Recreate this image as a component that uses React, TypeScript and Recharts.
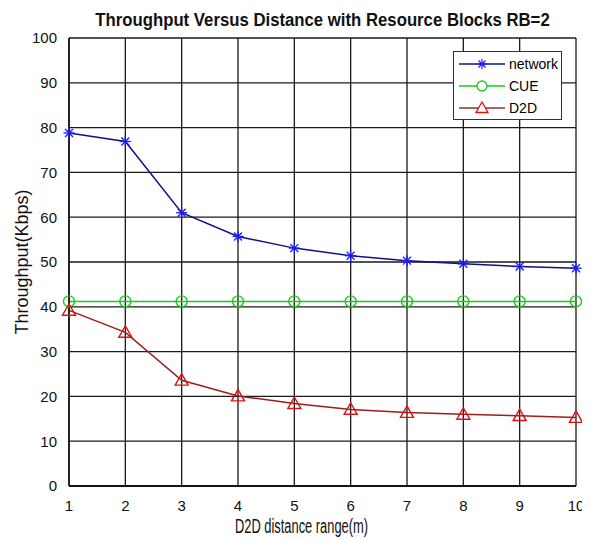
import React from "react";
import { LineChart, Line, XAxis, YAxis, CartesianGrid, Label } from "recharts";

const distances = [1, 2, 3, 4, 5, 6, 7, 8, 9, 10];
const networkValues = [78.8, 76.9, 61.0, 55.7, 53.1, 51.4, 50.3, 49.6, 49.0, 48.6];
const cueValues = [41.2, 41.2, 41.2, 41.2, 41.2, 41.2, 41.2, 41.2, 41.2, 41.2];
const d2dValues = [39.2, 34.3, 23.6, 20.1, 18.4, 17.1, 16.4, 16.0, 15.7, 15.3];
const xTicks = [1, 2, 3, 4, 5, 6, 7, 8, 9, 10];
const yTicks = [0, 10, 20, 30, 40, 50, 60, 70, 80, 90, 100];

const data = distances.map((d, i) => ({
  d,
  network: networkValues[i],
  cue: cueValues[i],
  d2d: d2dValues[i],
}));

const FONT = "'Liberation Sans', Arial, sans-serif";

const NAVY = "#10108a";
const BLUE = "#1a1aff";
const GREEN = "#1ec81e";
const MAROON = "#a01c1c";
const RED = "#dd1111";

const Star = (props: any) => {
  const { cx, cy, index } = props;
  if (cx == null || cy == null) return <g key={`s${index}`} />;
  const r = 5.5;
  const d = r * 0.72;
  return (
    <g key={`s${index}`} stroke={BLUE} strokeWidth={1.3}>
      <line x1={cx - r} y1={cy} x2={cx + r} y2={cy} />
      <line x1={cx} y1={cy - r} x2={cx} y2={cy + r} />
      <line x1={cx - d} y1={cy - d} x2={cx + d} y2={cy + d} />
      <line x1={cx - d} y1={cy + d} x2={cx + d} y2={cy - d} />
    </g>
  );
};

const Circ = (props: any) => {
  const { cx, cy, index } = props;
  if (cx == null || cy == null) return <g key={`c${index}`} />;
  return <circle key={`c${index}`} cx={cx} cy={cy} r={5.5} fill="none" stroke={GREEN} strokeWidth={1.4} />;
};

const Tri = (props: any) => {
  const { cx, cy, index } = props;
  if (cx == null || cy == null) return <g key={`t${index}`} />;
  const h = 6.5;
  return (
    <polygon
      key={`t${index}`}
      points={`${cx},${cy - h} ${cx - h},${cy + h * 0.75} ${cx + h},${cy + h * 0.75}`}
      fill="none"
      stroke={RED}
      strokeWidth={1.4}
    />
  );
};

const XLabel = (props: any) => {
  const vb = props.viewBox || {};
  const cx = (vb.x ?? 0) + (vb.width ?? 0) / 2 - 21;
  const y = (vb.y ?? 0) + (vb.height ?? 0) - 6;
  return (
    <text
      x={cx}
      y={y}
      textAnchor="middle"
      textLength={133}
      lengthAdjust="spacingAndGlyphs"
      style={{ fill: "#111", fontSize: 20, fontFamily: FONT }}
    >
      D2D distance range(m)
    </text>
  );
};

const LegendRow = ({ color, label, marker }: { color: string; label: string; marker: React.ReactNode }) => (
  <div style={{ display: "flex", alignItems: "center", height: 22 }}>
    <svg width={50} height={16} style={{ display: "block" }}>
      <line x1={2} y1={8} x2={48} y2={8} stroke={color} strokeWidth={1.3} />
      {marker}
    </svg>
    <span style={{ marginLeft: 2, fontSize: 14, fontFamily: FONT, color: "#000" }}>{label}</span>
  </div>
);

export default function App() {
  return (
    <div style={{ position: "relative", width: 582, height: 531, background: "#fff" }}>
      <div
        style={{
          position: "absolute",
          left: 61,
          width: 507,
          top: 2,
          textAlign: "center",
          fontFamily: FONT,
          fontWeight: "bold",
          fontSize: 18,
          color: "#111",
          whiteSpace: "nowrap",
          transform: "scaleX(0.93)",
          transformOrigin: "center",
        }}
      >
        Throughput Versus Distance with Resource Blocks RB=2
      </div>
      <LineChart width={582} height={531} data={data} margin={{ top: 30, right: 14, left: 0, bottom: 0 }}>
        <CartesianGrid stroke="#1a1a1a" strokeWidth={1.3} />
        <XAxis
          dataKey="d"
          type="number"
          domain={[1, 10]}
          ticks={xTicks}
          interval={0}
          height={53}
          tickLine={false}
          axisLine={{ stroke: "#000", strokeWidth: 1.3 }}
          tick={{ fill: "#111", fontSize: 15, fontFamily: FONT }}
          tickMargin={8}
        >
          <Label content={XLabel} />
        </XAxis>
        <YAxis
          type="number"
          domain={[0, 100]}
          ticks={yTicks}
          interval={0}
          width={61}
          tickLine={false}
          axisLine={{ stroke: "#000", strokeWidth: 1.3 }}
          tick={{ fill: "#111", fontSize: 15, fontFamily: FONT }}
          tickMargin={6}
        >
          <Label
            value="Throughput(Kbps)"
            angle={-90}
            position="insideLeft"
            offset={14}
            style={{ textAnchor: "middle", fill: "#111", fontSize: 18, fontFamily: FONT }}
          />
        </YAxis>
        <Line dataKey="network" stroke={NAVY} strokeWidth={1.5} dot={Star} isAnimationActive={false} />
        <Line dataKey="cue" stroke={GREEN} strokeWidth={1.5} dot={Circ} isAnimationActive={false} />
        <Line dataKey="d2d" stroke={MAROON} strokeWidth={1.5} dot={Tri} isAnimationActive={false} />
      </LineChart>
      <div
        style={{
          position: "absolute",
          left: 445,
          top: 43,
          width: 109,
          height: 69,
          border: "1px solid #333",
          background: "#fff",
          boxSizing: "border-box",
          paddingLeft: 3,
          paddingTop: 1,
        }}
      >
        <LegendRow
          color={NAVY}
          label="network"
          marker={
            <g stroke={BLUE} strokeWidth={1.2}>
              <line x1={20} y1={8} x2={30} y2={8} />
              <line x1={25} y1={3} x2={25} y2={13} />
              <line x1={21.5} y1={4.5} x2={28.5} y2={11.5} />
              <line x1={21.5} y1={11.5} x2={28.5} y2={4.5} />
            </g>
          }
        />
        <LegendRow color={GREEN} label="CUE" marker={<circle cx={25} cy={8} r={5} fill="#fff" stroke={GREEN} strokeWidth={1.3} />} />
        <LegendRow color={"#8a3030"} label="D2D" marker={<polygon points="25,2 19,12.5 31,12.5" fill="#fff" stroke={RED} strokeWidth={1.3} />} />
      </div>
    </div>
  );
}
